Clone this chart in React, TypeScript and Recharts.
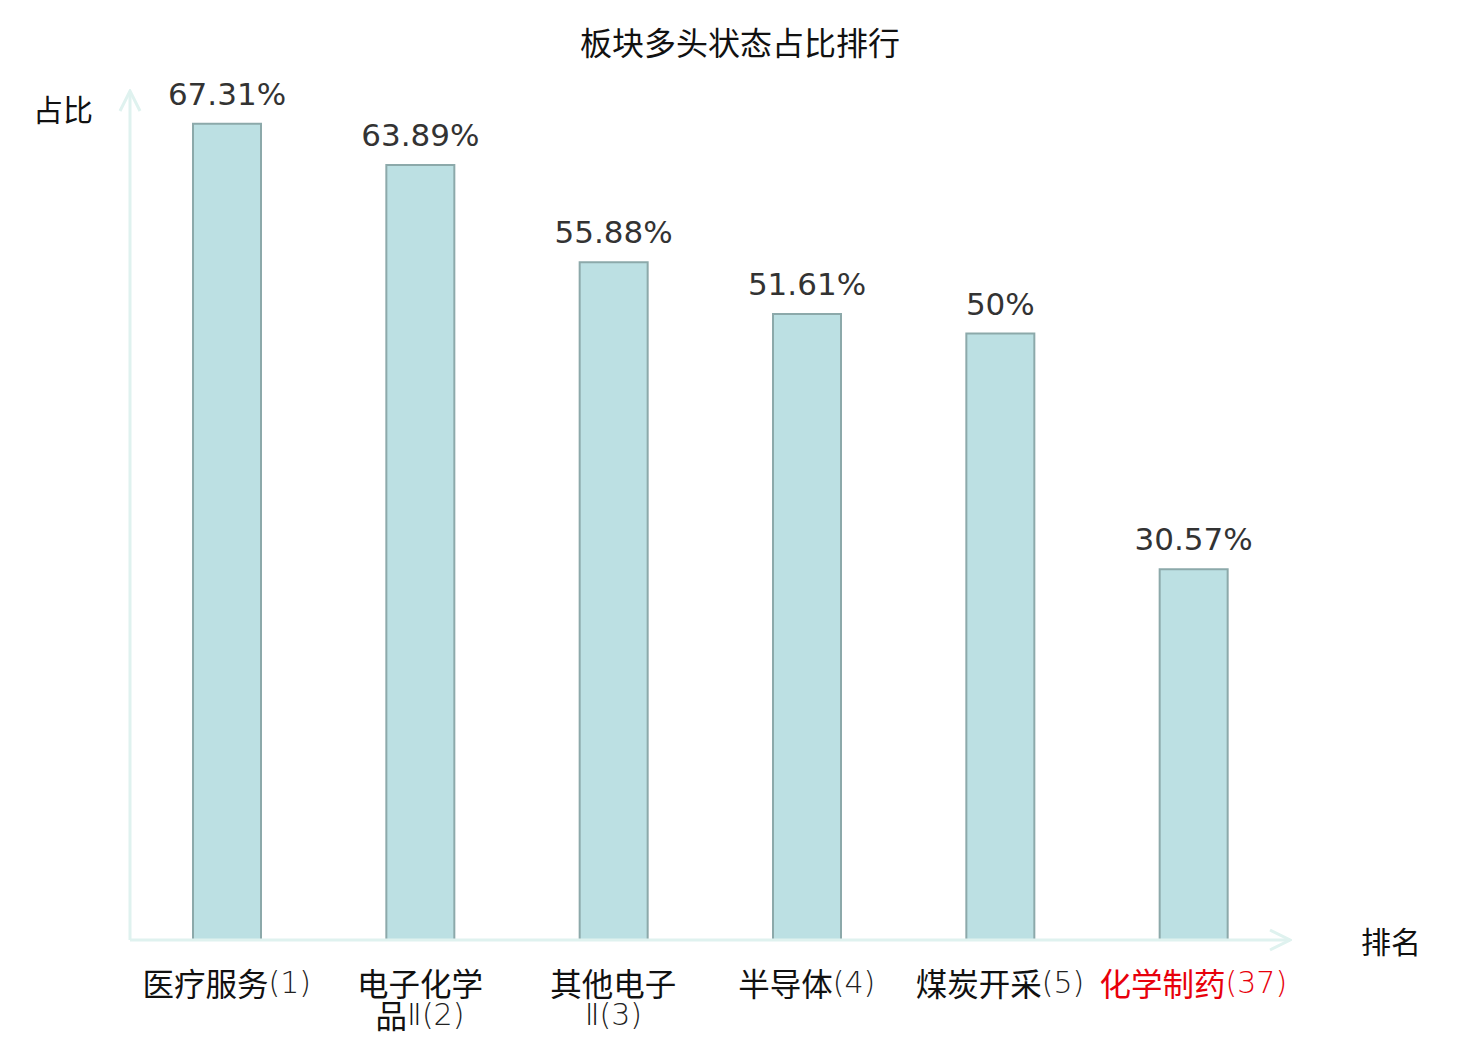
import { Bar, BarChart, LabelList, XAxis, YAxis } from "recharts";

const sectors = ["医疗服务", "电子化学品Ⅱ", "其他电子Ⅱ", "半导体", "煤炭开采", "化学制药"];
const ranks = [1, 2, 3, 4, 5, 37];
const ratios = [67.31, 63.89, 55.88, 51.61, 50, 30.57];
// how the long names break onto two lines under the axis
const tickLines = [
  ["医疗服务"],
  ["电子化学", "品Ⅱ"],
  ["其他电子", "Ⅱ"],
  ["半导体"],
  ["煤炭开采"],
  ["化学制药"],
];
const highlightIndex = 5;

const data = sectors.map((name, i) => ({ name, rank: ranks[i], value: ratios[i] }));

const AXIS = "#dff2ef";
const CJK = "'Noto Sans CJK SC', 'Noto Sans', sans-serif";
const THIN = "'DejaVu Sans', sans-serif";

// split "品Ⅱ" so the roman numeral gets the thin latin font
function renderLine(line: string, fill: string) {
  const parts = line.split(/(Ⅱ)/).filter(Boolean);
  return parts.map((p, j) =>
    p === "Ⅱ" ? (
      <tspan key={j} fill={fill} fontFamily={THIN} fontWeight={200} fontSize={30}>
        {p}
      </tspan>
    ) : (
      <tspan key={j} fill={fill}>
        {p}
      </tspan>
    ),
  );
}

function RankTick({ x, y, payload }: any) {
  const i = payload.index;
  const lines = tickLines[i];
  const red = i === highlightIndex;
  const main = red ? "#e8000b" : "#111";
  const sub = red ? "#e8000b" : "#222";
  return (
    <g>
      {lines.map((line, k) => {
        const last = k === lines.length - 1;
        return (
          <text
            key={k}
            x={x}
            y={y + 42 + k * 32}
            textAnchor="middle"
            dominantBaseline="central"
            fontFamily={CJK}
            fontSize={31.5}
          >
            {renderLine(line, main)}
            {last && (
              <tspan fill={sub} fontFamily={THIN} fontWeight={200} fontSize={30}>
                ({ranks[i]})
              </tspan>
            )}
          </text>
        );
      })}
    </g>
  );
}

export default function App() {
  return (
    <div style={{ position: "absolute", left: 0, top: 0, background: "#fff" }}>
      <BarChart
        width={1480}
        height={1040}
        data={data}
        margin={{ top: 91, right: 190, left: 129, bottom: 0 }}
      >
        <defs>
          <marker
            id="axisArrow"
            viewBox="0 0 24 24"
            markerWidth={24}
            markerHeight={24}
            refX={22}
            refY={12}
            markerUnits="userSpaceOnUse"
            orient="auto-start-reverse"
          >
            <path d="M2,2 L22,12 L2,22" fill="none" stroke={AXIS} strokeWidth={3} />
          </marker>
        </defs>
        <text x={740} y={41} textAnchor="middle" dominantBaseline="central" fontFamily={CJK} fontSize={32} fill="#111">
          板块多头状态占比排行
        </text>
        <text x={63} y={108} textAnchor="middle" dominantBaseline="central" fontFamily={CJK} fontSize={30} fill="#111">
          占比
        </text>
        <text x={1391} y={940} textAnchor="middle" dominantBaseline="central" fontFamily={CJK} fontSize={30} fill="#111">
          排名
        </text>
        <XAxis
          dataKey="name"
          height={100}
          interval={0}
          tickSize={0}
          tickMargin={0}
          tickLine={false}
          axisLine={{ stroke: AXIS, strokeWidth: 3, markerEnd: "url(#axisArrow)" }}
          tick={<RankTick />}
        />
        <YAxis
          width={1}
          domain={[0, 70]}
          tick={false}
          tickLine={false}
          axisLine={{ stroke: AXIS, strokeWidth: 3, markerStart: "url(#axisArrow)" }}
        />
        <Bar
          dataKey="value"
          barSize={68}
          fill="#bce0e3"
          stroke="#8ca9aa"
          strokeWidth={2}
          isAnimationActive={false}
        >
          <LabelList
            dataKey="value"
            position="top"
            offset={19}
            formatter={(v: any) => `${v}%`}
            fill="#333"
            fontSize={31}
            fontFamily="'DejaVu Sans', sans-serif"
          />
        </Bar>
      </BarChart>
    </div>
  );
}
